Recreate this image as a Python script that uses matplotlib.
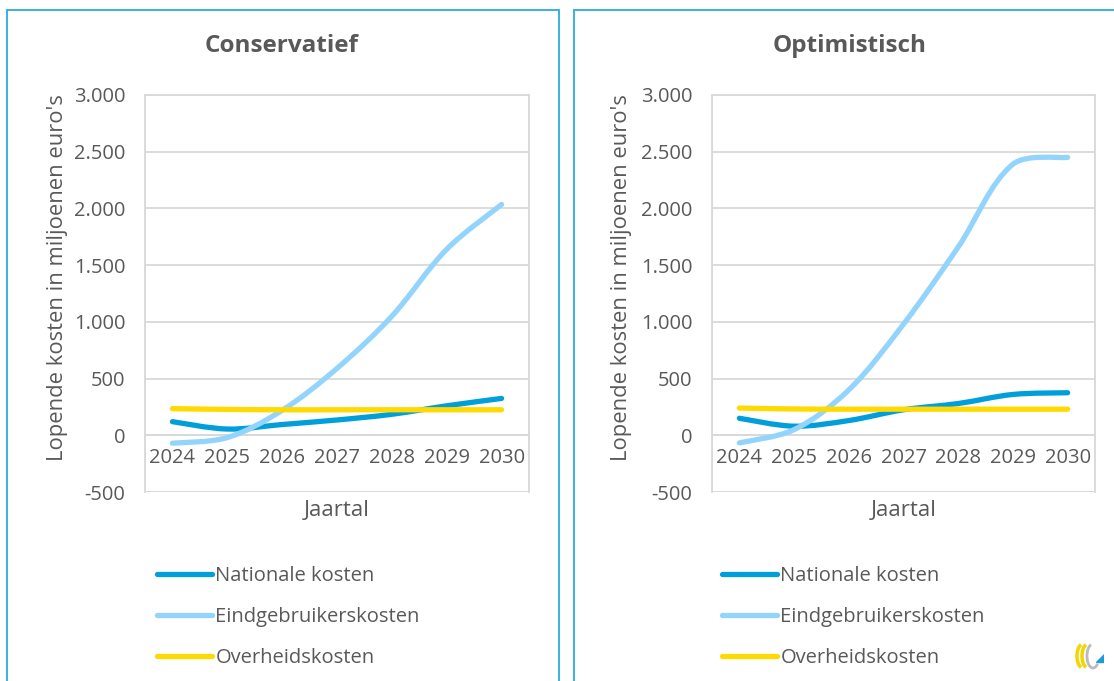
import matplotlib
matplotlib.use("Agg")
import numpy as np
import matplotlib.pyplot as plt
from matplotlib.path import Path
from matplotlib.patches import PathPatch, Rectangle, Polygon, Arc
from matplotlib.lines import Line2D
from matplotlib.ticker import FuncFormatter

plt.rcParams['font.family'] = ['Open Sans', 'DejaVu Sans']

years = ['2024', '2025', '2026', '2027', '2028', '2029', '2030']
series_names = ['Nationale kosten', 'Eindgebruikerskosten', 'Overheidskosten']

cons_nationale = [120, 55, 95, 135, 185, 260, 325]
cons_eindgebruikers = [-70, -20, 220, 590, 1050, 1640, 2035]
cons_overheid = [235, 228, 225, 225, 225, 225, 225]

opt_nationale = [150, 80, 130, 225, 280, 360, 375]
opt_eindgebruikers = [-67, 50, 400, 980, 1660, 2390, 2450]
opt_overheid = [240, 232, 230, 230, 230, 230, 230]

titles = ['Conservatief', 'Optimistisch']
y_ticks = [-500, 0, 500, 1000, 1500, 2000, 2500, 3000]
y_label = "Lopende kosten in miljoenen euro's"
x_label = 'Jaartal'

colors = ['#009FDA', '#93D4FD', '#FFDA00']
text_color = '#595959'
grid_color = '#D9D9D9'
panel_color = '#29ABE2'

W, H = 1114, 681
fig = plt.figure(figsize=(W / 100, H / 100), dpi=100)


def fx(px):
    return px / W


def fy(py):
    return 1 - py / H


def smooth_path(ax, xs, ys):
    # Excel-like smoothing: Bezier control points computed in display space
    pts = ax.transData.transform(np.column_stack([xs, ys]).astype(float))
    n = len(pts)
    k = 1.0 / 3.0
    c_in = [None] * n
    c_out = [None] * n
    for i in range(n):
        if i == 0:
            t = pts[1] - pts[0]
            c_out[i] = pts[0] + t * 0.5 * k
        elif i == n - 1:
            t = pts[i] - pts[i - 1]
            c_in[i] = pts[i] - t * 0.5 * k
        else:
            t = pts[i + 1] - pts[i - 1]
            dp = np.hypot(*(pts[i] - pts[i - 1]))
            dn = np.hypot(*(pts[i + 1] - pts[i]))
            s = dp + dn
            c_in[i] = pts[i] - t * (dp / s) * k
            c_out[i] = pts[i] + t * (dn / s) * k
    verts = [pts[0]]
    codes = [Path.MOVETO]
    for i in range(n - 1):
        verts += [c_out[i], c_in[i + 1], pts[i + 1]]
        codes += [Path.CURVE4] * 3
    verts = ax.transData.inverted().transform(np.array(verts))
    return Path(verts, codes)


# panel borders
fig.patches.append(Rectangle((fx(7), fy(700)), fx(558.5) - fx(7), fy(10) - fy(700),
                             transform=fig.transFigure, fill=False,
                             edgecolor=panel_color, linewidth=1.3))
fig.patches.append(Rectangle((fx(574), fy(700)), fx(1130) - fx(574), fy(10) - fy(700),
                             transform=fig.transFigure, fill=False,
                             edgecolor=panel_color, linewidth=1.3))

panels = [
    dict(x0=145, x1=529, title_x=282, ylab_x=58, leg_x=157,
         data=[cons_nationale, cons_eindgebruikers, cons_overheid]),
    dict(x0=712, x1=1095, title_x=850, ylab_x=622, leg_x=722,
         data=[opt_nationale, opt_eindgebruikers, opt_overheid]),
]

top_px, bot_px = 95, 492
for p, title in zip(panels, titles):
    ax = fig.add_axes([fx(p['x0']), fy(bot_px), fx(p['x1']) - fx(p['x0']), fy(top_px) - fy(bot_px)])
    ax.set_xlim(-0.5, len(years) - 0.5)
    ax.set_ylim(-500, 3000)
    ax.set_yticks(y_ticks)
    ax.yaxis.set_major_formatter(FuncFormatter(lambda v, pos: f"{int(v):,}".replace(',', '.')))
    ax.set_xticks(range(len(years)))
    ax.set_xticklabels(years)
    ax.grid(axis='y', color=grid_color, linewidth=1.3)
    ax.set_axisbelow(True)
    for s in ['top', 'right', 'left']:
        ax.spines[s].set_color(grid_color)
        ax.spines[s].set_linewidth(1.3)
    ax.spines['bottom'].set_position(('data', 0))
    ax.spines['bottom'].set_color(grid_color)
    ax.spines['bottom'].set_linewidth(1.3)
    ax.add_patch(Rectangle((0, 0), 1, 1, transform=ax.transAxes, fill=False,
                           edgecolor=grid_color, linewidth=1.3, zorder=0.5))
    ax.tick_params(axis='both', length=0, colors=text_color, labelsize=14.5)
    ax.tick_params(axis='y', pad=14)
    ax.tick_params(axis='x', pad=9)
    for vals, c in zip(p['data'], colors):
        path = smooth_path(ax, list(range(len(years))), vals)
        ax.add_patch(PathPatch(path, fill=False, edgecolor=c, linewidth=3.8,
                               capstyle='round', joinstyle='round', zorder=3))
    fig.text(fx(p['title_x']), fy(46), title, ha='center', va='center',
             fontsize=17.5, fontweight='bold', color=text_color)
    fig.text(fx(p['ylab_x']), fy(278), y_label, rotation=90, ha='center', va='center',
             fontsize=15.8, color=text_color)
    fig.text(fx((p['x0'] + p['x1']) / 2), fy(510), x_label, ha='center', va='center',
             fontsize=16, color=text_color)
    handles = [Line2D([0], [0], color=c, linewidth=3.8, solid_capstyle='round') for c in colors]
    fig.legend(handles, series_names, loc='upper left',
               bbox_to_anchor=(fx(p['leg_x']), fy(566)), bbox_transform=fig.transFigure,
               frameon=False, borderpad=0, borderaxespad=0, handlelength=2.75,
               handletextpad=0.15, labelspacing=1.05, fontsize=14.5,
               labelcolor=text_color)

# small logo bottom right
lax = fig.add_axes([fx(1072), fy(670), fx(32), fy(640) - fy(670)])
lax.set_xlim(0, 32)
lax.set_ylim(0, 30)
lax.axis('off')
lax.add_patch(Arc((11, 14), 12, 24, theta1=100, theta2=260, color='#F2D600', linewidth=2.5))
lax.add_patch(Arc((16, 14), 12, 24, theta1=100, theta2=260, color='#F2D600', linewidth=2.5))
lax.add_patch(Arc((21, 14), 12, 24, theta1=100, theta2=300, color='#BBBBBB', linewidth=2))
lax.add_patch(Polygon([[24, 8], [32, 8], [32, 16]], closed=True, color='#1E9BD7'))

fig.savefig('out.png', dpi=100)
